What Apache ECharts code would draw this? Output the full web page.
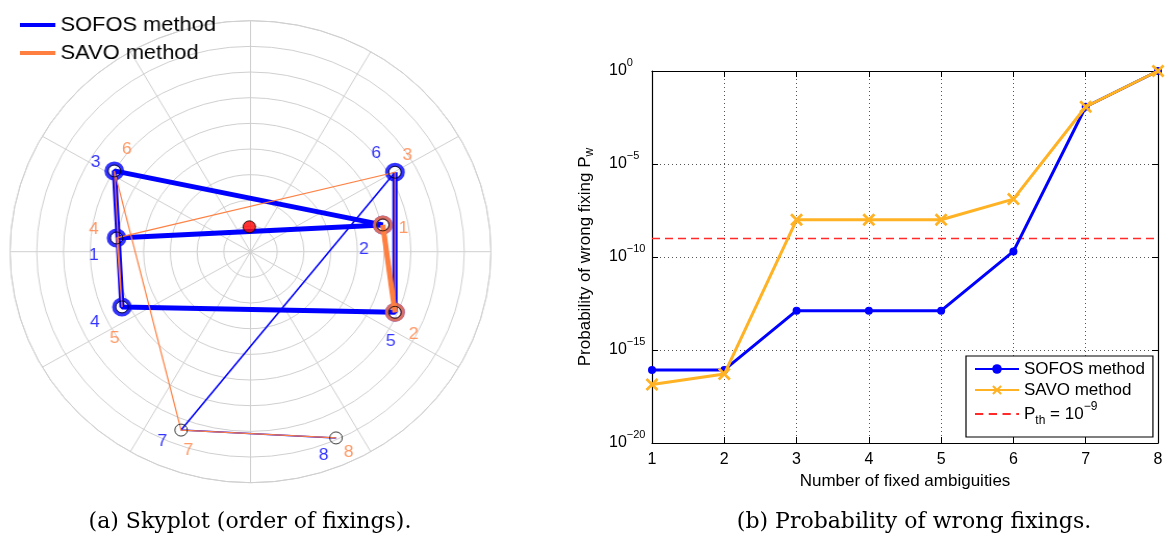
<!DOCTYPE html>
<html>
<head>
<meta charset="utf-8">
<title>Order of fixings and probability of wrong fixing</title>
<script src="https://cdn.jsdelivr.net/npm/echarts@6/dist/echarts.min.js"></script>
<style>
  html, body { margin: 0; padding: 0; background: #fff; }
  #wrap { position: relative; width: 1166px; height: 542px; overflow: hidden; }
  #main { position: absolute; left: 0; top: 0; width: 1166px; height: 542px; }
  /* the skyplot is slightly wider than tall */
  #sky { position: absolute; left: 0; top: 0; width: 520px; height: 495px;
         transform-origin: 250.5px 0; transform: scaleX(1.041); }
</style>
</head>
<body>
<div id="wrap"><div id="main"></div><div id="sky"></div></div>
<script>
// ---- skyplot data -------------------------------------------------------
// satellite azimuth (deg, clockwise from north) and elevation (deg)
const satAzimuth   = [301.7, 276.1, 245.9, 60.2, 78.1, 113.6, 200.5, 156.2];
const satElevation = [30.1, 39.6, 37.3, 27.7, 39.4, 31.0, 15.8, 10.7];
// reference satellite
const refAzimuth = 357.4;
const refElevation = 80.3;
// order in which each method fixes the satellites (indices into the arrays above)
const sofosOrder = [1, 4, 0, 2, 5, 3, 6, 7];
const savoOrder  = [4, 5, 3, 1, 2, 0, 6, 7];

// ---- probability of wrong fixing ---------------------------------------
const fixedCount = [1, 2, 3, 4, 5, 6, 7, 8];
const sofosProb  = [8.5e-17, 8.5e-17, 1.3e-13, 1.3e-13, 1.3e-13, 2e-10, 1.2e-2, 1];
const savoProb   = [1.4e-17, 5.1e-17, 1e-8, 1e-8, 1e-8, 1.3e-7, 1.2e-2, 1];
const threshold  = 1e-9;
const yTickValues = [1e-20, 1e-15, 1e-10, 1e-5, 1];

// ---- text ---------------------------------------------------------------
const sofosName = 'SOFOS method';
const savoName = 'SAVO method';
const thName = 'Pth';
const captionA = '(a) Skyplot (order of fixings).';
const captionB = '(b) Probability of wrong fixings.';

// ---- styling ------------------------------------------------------------
const BLUE = '#0000ff';
const SKY_ORANGE = '#ff7f40';
const GOLD = '#ffb224';
const TH_RED = '#ff2a2a';
const GRID_GREY = '#cfcfcf';
const SANS = 'Liberation Sans, Arial, Helvetica, sans-serif';
// label offsets (px) next to each satellite, by fixing rank
const sofosLabelOffset = [[-22, 17], [-18, 24], [-18, -9], [-26, 15], [-4, 29], [-18, -19], [-18, 11], [-12, 17]];
const savoLabelOffset  = [[20, 3], [18, 22], [12, -17], [-22, -9], [-7, 31], [12, -22], [7, 20], [12, 14]];

// number of ambiguities fixed before the threshold is exceeded
function countFixed(p) { let n = 0; while (n < p.length && p[n] < threshold) n++; return n; }
const sofosFixed = countFixed(sofosProb);
const savoFixed = countFixed(savoProb);

const pt = i => [satElevation[i], satAzimuth[i]];

function pathSeries(name, order, from, to, color, width, z) {
  return {
    type: 'line', name: name, coordinateSystem: 'polar', polarIndex: 0,
    data: order.slice(from, to).map(pt), symbol: 'none', z: z,
    lineStyle: { color: color, width: width }, itemStyle: { color: color },
    silent: true, animation: false
  };
}
function ringSeries(order, n, color, z) {
  return {
    type: 'scatter', coordinateSystem: 'polar', polarIndex: 0,
    data: order.slice(0, n).map(pt), symbol: 'circle', symbolSize: 15, z: z,
    itemStyle: { color: 'rgba(0,0,0,0)', borderColor: color, borderWidth: 4 },
    silent: true, animation: false
  };
}
function labelSeries(order, offsets, color) {
  return {
    type: 'scatter', coordinateSystem: 'polar', polarIndex: 0, z: 20,
    symbol: 'circle', symbolSize: 1, itemStyle: { color: 'rgba(0,0,0,0)' },
    data: order.map((s, k) => ({ name: String(k + 1), value: pt(s), label: { offset: offsets[k] } })),
    label: { show: true, position: 'inside', formatter: '{b}', color: color,
             fontSize: 17, fontFamily: SANS, align: 'center', verticalAlign: 'middle' },
    silent: true, animation: false
  };
}

// ---- skyplot ------------------------------------------------------------
const sky = echarts.init(document.getElementById('sky'), null, { renderer: 'canvas' });
sky.setOption({
  animation: false,
  backgroundColor: 'rgba(0,0,0,0)',
  legend: {
    data: [{ name: sofosName, icon: 'rect' }, { name: savoName, icon: 'rect' }],
    orient: 'vertical', left: 24, top: 8,
    itemWidth: 34, itemHeight: 4, itemGap: 4, selectedMode: false,
    textStyle: { fontSize: 21, fontFamily: SANS, color: '#000', lineHeight: 24 }
  },
  polar: { center: [250.5, 251.7], radius: 231 },
  angleAxis: {
    type: 'value', min: 0, max: 360, interval: 30, startAngle: 90, clockwise: true,
    axisLine: { show: true, lineStyle: { color: GRID_GREY, width: 1 } },
    axisTick: { show: false }, axisLabel: { show: false },
    splitLine: { show: true, lineStyle: { color: GRID_GREY, width: 1 } }
  },
  radiusAxis: {
    type: 'value', min: 0, max: 90, interval: 10, inverse: true,
    axisLine: { show: false }, axisTick: { show: false }, axisLabel: { show: false },
    splitLine: { show: true, lineStyle: { color: GRID_GREY, width: 1 } }
  },
  series: [
    pathSeries(sofosName, sofosOrder, 0, sofosFixed, BLUE, 5, 2),
    pathSeries('', sofosOrder, sofosFixed - 1, sofosOrder.length, BLUE, 1.5, 2),
    ringSeries(sofosOrder, sofosFixed, BLUE, 3),
    pathSeries(savoName, savoOrder, 0, savoFixed, SKY_ORANGE, 5, 4),
    pathSeries('', savoOrder, savoFixed - 1, savoOrder.length, SKY_ORANGE, 1.2, 4),
    ringSeries(savoOrder, savoFixed, SKY_ORANGE, 5),
    {
      type: 'scatter', coordinateSystem: 'polar', polarIndex: 0, z: 6,
      data: satAzimuth.map((a, i) => pt(i)), symbol: 'circle', symbolSize: 12,
      itemStyle: { color: 'rgba(0,0,0,0)', borderColor: '#000', borderWidth: 1 },
      silent: true, animation: false
    },
    {
      type: 'scatter', coordinateSystem: 'polar', polarIndex: 0, z: 7,
      data: [[refElevation, refAzimuth]], symbol: 'circle', symbolSize: 12,
      itemStyle: { color: '#ff0000', borderColor: '#000', borderWidth: 1 },
      silent: true, animation: false
    },
    labelSeries(sofosOrder, sofosLabelOffset, BLUE),
    labelSeries(savoOrder, savoLabelOffset, SKY_ORANGE)
  ]
});

// ---- probability chart + captions --------------------------------------
const supExp = v => { const e = Math.round(Math.log10(v)); return e < 0 ? '\u2212' + (-e) : String(e); };
const dotted = { show: true, lineStyle: { color: '#555', width: 1, type: [1, 3] } };
const boxLine = { show: true, onZero: false, lineStyle: { color: '#000', width: 1.2 } };
const inTick = { show: true, inside: true, length: 6, lineStyle: { color: '#000', width: 1 } };
const xMarker = 'path://M1.5,0L5,3.5L8.5,0L10,1.5L6.5,5L10,8.5L8.5,10L5,6.5L1.5,10L0,8.5L3.5,5L0,1.5Z';
const dashIcon = 'path://M0,0H9V2H0Z M15,0H24V2H15Z M30,0H39V2H30Z M45,0H48V2H45Z';
const decadeStep = Math.round(Math.log10(yTickValues[1] / yTickValues[0]));

const main = echarts.init(document.getElementById('main'), null, { renderer: 'canvas' });
main.setOption({
  animation: false,
  backgroundColor: '#fff',
  grid: { left: 652, top: 71, width: 506, height: 372, containLabel: false },
  xAxis: [
    {
      type: 'value', min: fixedCount[0], max: fixedCount[fixedCount.length - 1], interval: 1,
      position: 'bottom', axisLine: boxLine, axisTick: inTick, splitLine: dotted,
      axisLabel: { fontSize: 16, fontFamily: SANS, color: '#000', margin: 9 },
      name: 'Number of fixed ambiguities', nameLocation: 'middle', nameGap: 27,
      nameTextStyle: { fontSize: 17, fontFamily: SANS, color: '#000' }
    },
    {
      type: 'value', min: fixedCount[0], max: fixedCount[fixedCount.length - 1], interval: 1,
      position: 'top', axisLine: boxLine, axisTick: inTick, splitLine: { show: false },
      axisLabel: { show: false }
    }
  ],
  yAxis: [
    {
      type: 'log', logBase: 10, min: yTickValues[0], max: yTickValues[yTickValues.length - 1],
      interval: decadeStep,
      position: 'left', axisLine: boxLine, axisTick: inTick, splitLine: dotted,
      axisLabel: {
        margin: 43, align: 'left', fontFamily: SANS, color: '#000',
        formatter: v => '{b|10}{s|' + supExp(v) + '}',
        rich: {
          b: { fontSize: 16, fontFamily: SANS, color: '#000', lineHeight: 16 },
          s: { fontSize: 11, fontFamily: SANS, color: '#000', lineHeight: 11, padding: [0, 0, 16, 0] }
        }
      },
      name: '{n|Probability of wrong fixing P}{w|w}', nameLocation: 'middle', nameGap: 58, nameRotate: 90,
      nameTextStyle: {
        fontFamily: SANS, color: '#000',
        rich: {
          n: { fontSize: 17, fontFamily: SANS, color: '#000', lineHeight: 18 },
          w: { fontSize: 12, fontFamily: SANS, color: '#000', lineHeight: 12, padding: [10, 0, 0, 0] }
        }
      }
    },
    {
      type: 'log', logBase: 10, min: yTickValues[0], max: yTickValues[yTickValues.length - 1],
      interval: decadeStep,
      position: 'right', axisLine: boxLine, axisTick: inTick, splitLine: { show: false },
      axisLabel: { show: false }
    }
  ],
  legend: {
    data: [sofosName, savoName, { name: thName, icon: dashIcon }],
    orient: 'vertical', left: 966, top: 356,
    padding: [3, 8, 10, 8], itemGap: 1, itemWidth: 44, itemHeight: 12,
    borderColor: '#000', borderWidth: 1.2, backgroundColor: '#fff', borderRadius: 0,
    selectedMode: false,
    formatter: name => name === thName
      ? '{t|P}{sub|th}{t| = 10}{sup|' + supExp(threshold) + '}'
      : name,
    textStyle: {
      fontSize: 17, fontFamily: SANS, color: '#000', lineHeight: 20,
      rich: {
        t: { fontSize: 17, fontFamily: SANS, color: '#000', lineHeight: 20 },
        sub: { fontSize: 12, fontFamily: SANS, color: '#000', lineHeight: 12, padding: [14, 0, 0, 0] },
        sup: { fontSize: 12, fontFamily: SANS, color: '#000', lineHeight: 12, padding: [0, 0, 14, 0] }
      }
    }
  },
  series: [
    {
      type: 'line', name: thName, z: 2, xAxisIndex: 0, yAxisIndex: 0,
      data: [[fixedCount[0], threshold], [fixedCount[fixedCount.length - 1], threshold]],
      symbol: 'none', lineStyle: { color: TH_RED, width: 1.5, type: [8, 5] },
      itemStyle: { color: TH_RED }
    },
    {
      type: 'line', name: sofosName, z: 3, xAxisIndex: 0, yAxisIndex: 0,
      data: fixedCount.map((x, i) => [x, sofosProb[i]]),
      symbol: 'circle', symbolSize: 8, showAllSymbol: true,
      lineStyle: { color: BLUE, width: 3 }, itemStyle: { color: BLUE }
    },
    {
      type: 'line', name: savoName, z: 4, xAxisIndex: 0, yAxisIndex: 0,
      data: fixedCount.map((x, i) => [x, savoProb[i]]),
      symbol: xMarker, symbolSize: 13, showAllSymbol: true,
      lineStyle: { color: GOLD, width: 3 }, itemStyle: { color: GOLD }
    }
  ],
  graphic: [
    { type: 'text', x: 250, y: 522, silent: true,
      style: { text: captionA, fontSize: 22, fontFamily: 'DejaVu Serif, serif', fill: '#000',
               align: 'center', verticalAlign: 'middle' } },
    { type: 'text', x: 914, y: 522, silent: true,
      style: { text: captionB, fontSize: 22, fontFamily: 'DejaVu Serif, serif', fill: '#000',
               align: 'center', verticalAlign: 'middle' } }
  ]
});
</script>
</body>
</html>
